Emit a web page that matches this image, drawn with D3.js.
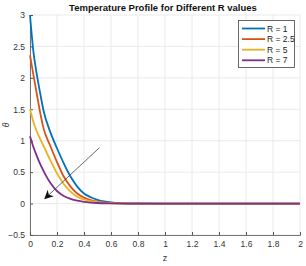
<!DOCTYPE html>
<html>
<head>
<meta charset="utf-8">
<script src="https://cdn.jsdelivr.net/npm/d3@7"></script>
<style>
  body { margin: 0; background: #fff; }
  text { font-family: "Liberation Sans", Arial, sans-serif; }
</style>
</head>
<body>
<div id="chart"></div>
<script>
const zVals = [0, 0.025, 0.05, 0.075, 0.1, 0.15, 0.2, 0.25, 0.3, 0.35, 0.4, 0.45, 0.5, 0.55, 0.6, 0.7, 0.8, 1, 1.5, 2];
const r1 = [3.0, 2.42, 2.06, 1.76, 1.48, 1.14, 0.88, 0.64, 0.43, 0.27, 0.16, 0.1, 0.06, 0.033, 0.017, 0.005, 0.001, 0, 0, 0];
const r25 = [2.36, 2.05, 1.75, 1.45, 1.2, 0.92, 0.66, 0.43, 0.27, 0.16, 0.095, 0.056, 0.032, 0.017, 0.009, 0.002, 0, 0, 0, 0];
const r5 = [1.5, 1.3, 1.15, 1.03, 0.92, 0.69, 0.48, 0.31, 0.19, 0.11, 0.065, 0.038, 0.021, 0.011, 0.006, 0.001, 0, 0, 0, 0];
const r7 = [1.07, 0.9, 0.76, 0.63, 0.52, 0.33, 0.2, 0.12, 0.075, 0.045, 0.027, 0.016, 0.009, 0.005, 0.003, 0, 0, 0, 0, 0];
const seriesNames = ["R = 1", "R = 2.5", "R = 5", "R = 7"];
const seriesColors = ["#0072BD", "#D95319", "#EDB120", "#7E2F8E"];
const xTicks = [0, 0.2, 0.4, 0.6, 0.8, 1, 1.2, 1.4, 1.6, 1.8, 2];
const yTicks = [-0.5, 0, 0.5, 1, 1.5, 2, 2.5, 3];
// arrow annotation (from, to) in data units
const arrowFrom = [0.515, 0.89];
const arrowTo = [0.11, 0.08];

const w = 306, h = 266;
const m = { left: 30, right: 300, top: 15, bottom: 235 };

const svg = d3.select("#chart").append("svg")
    .attr("width", w).attr("height", h);

const x = d3.scaleLinear().domain([0, 2]).range([m.left, m.right]);
const y = d3.scaleLinear().domain([-0.5, 3]).range([m.bottom, m.top]);

// grid
svg.append("g").selectAll("line").data(xTicks).enter().append("line")
    .attr("x1", d => x(d)).attr("x2", d => x(d))
    .attr("y1", m.top).attr("y2", m.bottom)
    .attr("stroke", "#e4e4e4").attr("stroke-width", 0.8);
svg.append("g").selectAll("line").data(yTicks).enter().append("line")
    .attr("x1", m.left).attr("x2", m.right)
    .attr("y1", d => y(d)).attr("y2", d => y(d))
    .attr("stroke", "#e4e4e4").attr("stroke-width", 0.8);

// axes
const xAxis = svg.append("g")
    .attr("transform", "translate(0," + m.bottom + ")")
    .call(d3.axisBottom(x).tickValues(xTicks).tickSize(-3).tickPadding(6)
        .tickFormat(d3.format("~g")));
const yAxis = svg.append("g")
    .attr("transform", "translate(" + m.left + ",0)")
    .call(d3.axisLeft(y).tickValues(yTicks).tickSize(-3).tickPadding(5)
        .tickFormat(d3.format("~g")));
[xAxis, yAxis].forEach(function (g) {
    g.select(".domain").attr("stroke", "#555").attr("stroke-width", 0.8);
    g.selectAll(".tick line").attr("stroke", "#555");
    g.selectAll("text").attr("fill", "#333").attr("font-size", 8.5)
        .attr("font-family", "Liberation Sans, Arial, sans-serif");
});

// curves
const allSeries = [r1, r25, r5, r7];
const line = d3.line()
    .x((d, i) => x(zVals[i]))
    .y(d => y(d))
    .curve(d3.curveMonotoneX);
allSeries.forEach(function (s, i) {
    svg.append("path")
        .attr("d", line(s))
        .attr("fill", "none")
        .attr("stroke", seriesColors[i])
        .attr("stroke-width", 1.8);
});

// arrow
svg.append("defs").append("marker")
    .attr("id", "head").attr("viewBox", "0 0 10 10")
    .attr("refX", 9).attr("refY", 5)
    .attr("markerWidth", 9).attr("markerHeight", 9)
    .attr("markerUnits", "userSpaceOnUse")
    .attr("orient", "auto")
    .append("path").attr("d", "M0,0 L10,5 L0,10 L3,5 Z").attr("fill", "#111");
svg.append("line")
    .attr("x1", x(arrowFrom[0])).attr("y1", y(arrowFrom[1]))
    .attr("x2", x(arrowTo[0])).attr("y2", y(arrowTo[1]))
    .attr("stroke", "#444").attr("stroke-width", 0.8)
    .attr("marker-end", "url(#head)");

// title and labels
svg.append("text")
    .attr("x", (m.left + m.right) / 2 - 2).attr("y", 11)
    .attr("text-anchor", "middle")
    .attr("font-size", 9.5).attr("font-weight", "bold").attr("fill", "#111")
    .text("Temperature Profile for Different R values");
svg.append("text")
    .attr("x", (m.left + m.right) / 2).attr("y", 261)
    .attr("text-anchor", "middle")
    .attr("font-size", 9).attr("fill", "#333")
    .text("z");
svg.append("text")
    .attr("transform", "translate(9," + (m.top + m.bottom) / 2 + ") rotate(-90)")
    .attr("text-anchor", "middle")
    .attr("font-size", 8.5).attr("font-style", "italic").attr("fill", "#333")
    .text("θ");

// legend
const legend = svg.append("g");
legend.append("rect")
    .attr("x", 238.5).attr("y", 20.5).attr("width", 56).attr("height", 47)
    .attr("fill", "#fff").attr("stroke", "#444").attr("stroke-width", 0.8);
seriesNames.forEach(function (name, i) {
    const ly = 28.5 + i * 10.6;
    legend.append("line")
        .attr("x1", 242).attr("x2", 265)
        .attr("y1", ly).attr("y2", ly)
        .attr("stroke", seriesColors[i]).attr("stroke-width", 1.8);
    legend.append("text")
        .attr("x", 267).attr("y", ly + 3)
        .attr("font-size", 8.5).attr("fill", "#222")
        .text(name);
});
</script>
</body>
</html>
